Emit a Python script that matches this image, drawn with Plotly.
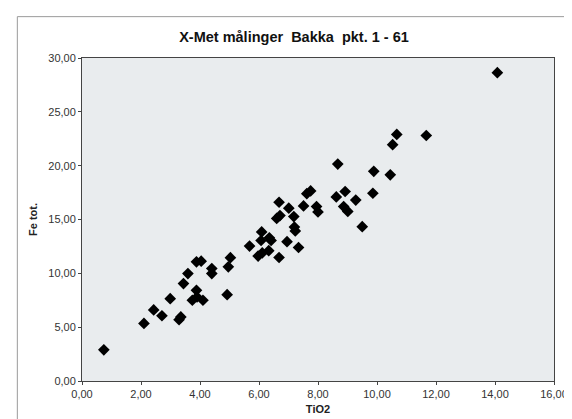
import plotly.graph_objects as go

tio2 = [0.74, 2.10, 2.43, 2.71, 2.99, 3.29, 3.35, 3.44, 3.59, 3.88, 4.04, 3.88,
        3.74, 3.90, 4.10, 4.40, 4.40, 5.03, 4.96, 4.92,
        8.67, 7.62, 7.75, 8.62, 8.92, 9.28, 8.87, 9.01, 6.68, 7.01, 7.51, 7.95, 8.00,
        6.60, 6.71, 7.18, 7.20, 7.23, 6.09, 6.07, 6.35, 6.41, 5.68, 6.95, 7.34,
        5.97, 6.11, 6.33, 6.68, 14.08, 10.67, 10.53, 11.67, 9.89, 10.45, 9.86, 9.50]
fe_tot = [2.90, 5.35, 6.60, 6.06, 7.65, 5.70, 5.95, 9.05, 9.98, 11.07, 11.13, 8.42,
          7.50, 7.80, 7.50, 10.45, 9.98, 11.45, 10.60, 8.02,
          20.15, 17.40, 17.65, 17.10, 17.60, 16.80, 16.20, 15.75, 16.60, 16.05, 16.26, 16.20, 15.70,
          15.10, 15.36, 15.27, 14.30, 13.93, 13.85, 13.05, 13.30, 13.05, 12.53, 12.94, 12.40,
          11.60, 11.90, 12.10, 11.47, 28.64, 22.90, 21.95, 22.80, 19.47, 19.15, 17.44, 14.33]

x_ticks = [0, 2, 4, 6, 8, 10, 12, 14, 16]
x_tick_labels = ["0,00", "2,00", "4,00", "6,00", "8,00", "10,00", "12,00", "14,00", "16,00"]
y_ticks = [0, 5, 10, 15, 20, 25, 30]
y_tick_labels = ["0,00", "5,00", "10,00", "15,00", "20,00", "25,00", "30,00"]

fig = go.Figure()
fig.add_trace(go.Scatter(
    x=tio2, y=fe_tot, mode="markers",
    marker=dict(symbol="diamond", size=9, color="#000000"),
    showlegend=False,
))

font = "Liberation Sans, Arial, sans-serif"
fig.update_layout(
    width=572, height=419,
    margin=dict(l=74, r=17, t=49.5, b=46),
    paper_bgcolor="#ffffff",
    plot_bgcolor="#e9ecee",
    font=dict(family=font, size=11, color="#333333"),
    title=dict(text="<b>X-Met målinger  Bakka  pkt. 1 - 61</b>", x=0.5, xref="container",
               xanchor="center", y=0.93, yanchor="middle",
               font=dict(size=14.5, color="#111111", family=font)),
    xaxis=dict(range=[0, 16], tickvals=x_ticks, ticktext=x_tick_labels,
               showgrid=False, zeroline=False, showline=True, linecolor="#444444", linewidth=1,
               mirror=True, ticks="outside", ticklen=3, tickcolor="#444444",
               title=dict(text="<b>TiO2</b>", font=dict(size=11, color="#222222"), standoff=6)),
    yaxis=dict(range=[0, 30], tickvals=y_ticks, ticktext=y_tick_labels,
               showgrid=False, zeroline=False, showline=True, linecolor="#444444", linewidth=1,
               mirror=True, ticks="outside", ticklen=3, tickcolor="#444444",
               title=dict(text="<b>Fe tot.</b>", font=dict(size=11, color="#222222"), standoff=8)),
    shapes=[dict(type="rect", xref="paper", yref="paper",
                 x0=-0.137, x1=1.033, y0=-0.14, y1=1.128,
                 line=dict(color="#9a9a9a", width=1), layer="below")],
)

fig.write_html("out.html")
